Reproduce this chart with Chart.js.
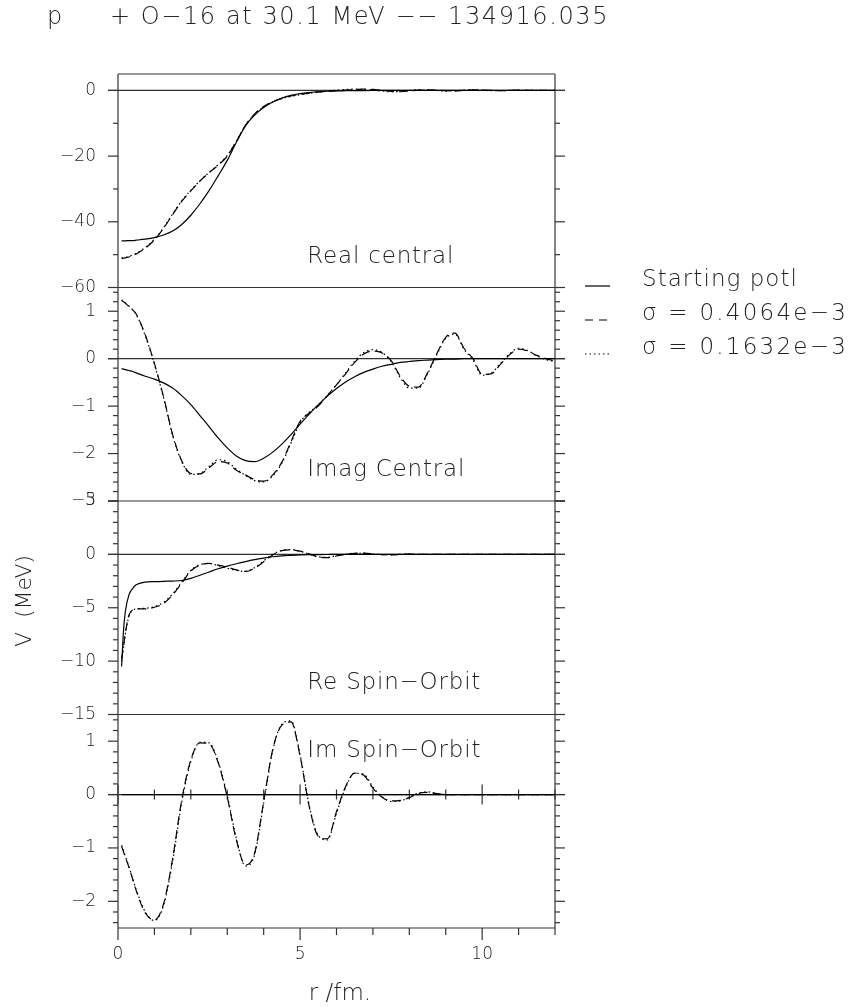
<!DOCTYPE html>
<html>
<head>
<meta charset="utf-8">
<script src="https://cdn.jsdelivr.net/npm/chart.js@4.4.1/dist/chart.umd.min.js"></script>
<style>
  html, body { margin: 0; padding: 0; background: #fff; }
</style>
</head>
<body>
<canvas id="pot-chart" width="851" height="1007"></canvas>
<script>
// radius grid, fm
const r = [0.1, 0.15, 0.2, 0.3, 0.4, 0.5, 0.75, 1, 1.25, 1.5, 1.75, 2, 2.25, 2.5, 2.75, 3, 3.25, 3.5, 3.75, 4,
  4.25, 4.5, 4.75, 5, 5.25, 5.5, 5.75, 6, 6.25, 6.5, 6.75, 7, 7.25, 7.5, 7.75, 8, 8.25, 8.5, 8.75, 9,
  9.25, 9.5, 9.75, 10, 10.25, 10.5, 10.75, 11, 11.25, 11.5, 11.75, 12];

// Real central (MeV)
const realStart = [-45.8, -45.8, -45.8, -45.7, -45.7, -45.6, -45.3, -44.8, -44.0, -42.8, -40.8, -38.0, -34.5, -30.5, -26.0, -21.3, -15.8, -10.8, -7.5, -5.2,
  -3.5, -2.3, -1.5, -1.0, -0.65, -0.4, -0.25, -0.15, -0.1, -0.06, -0.04, -0.02, 0, 0, 0, 0, 0, 0, 0, 0,
  0, 0, 0, 0, 0, 0, 0, 0, 0, 0, 0, 0];
const realFitA = [-51.2, -51.1, -51.0, -50.7, -50.3, -49.8, -48.0, -45.5, -42.0, -37.8, -33.8, -30.6, -27.6, -25.0, -22.8, -20.0, -15.5, -10.6, -7.2, -4.9,
  -3.4, -2.4, -1.7, -1.2, -0.8, -0.5, -0.3, -0.1, 0.1, 0.25, 0.4, 0.3, 0, -0.3, -0.4, -0.2, 0.1, 0.2, 0.1, -0.1,
  -0.2, 0, 0.2, 0.1, 0, -0.1, 0, 0.1, 0.05, 0, 0, 0];
const realFitB = [-51.0, -50.9, -50.8, -50.5, -50.1, -49.6, -47.8, -45.3, -41.8, -37.6, -33.6, -30.4, -27.5, -25.0, -22.6, -19.8, -15.4, -10.6, -7.3, -5.0,
  -3.5, -2.5, -1.8, -1.3, -0.9, -0.5, -0.2, 0.1, 0.3, 0.4, 0.3, 0.1, -0.2, -0.4, -0.3, 0, 0.2, 0.2, 0, -0.2,
  -0.1, 0.1, 0.2, 0.1, -0.1, -0.1, 0, 0.1, 0, 0, 0, 0];

// Imag central (MeV)
const imagStart = [-0.21, -0.22, -0.23, -0.25, -0.27, -0.3, -0.37, -0.43, -0.51, -0.62, -0.78, -0.97, -1.2, -1.43, -1.67, -1.88, -2.05, -2.15, -2.17, -2.1,
  -1.97, -1.8, -1.6, -1.38, -1.17, -0.97, -0.79, -0.63, -0.49, -0.38, -0.29, -0.22, -0.16, -0.12, -0.08, -0.06, -0.04, -0.03, -0.02, -0.01,
  -0.01, 0, 0, 0, 0, 0, 0, 0, 0, 0, 0, 0];
const imagFitA = [1.22, 1.2, 1.17, 1.1, 1.03, 0.94, 0.5, -0.1, -0.8, -1.6, -2.15, -2.42, -2.43, -2.3, -2.17, -2.2, -2.35, -2.45, -2.55, -2.58,
  -2.45, -2.18, -1.75, -1.32, -1.15, -1.0, -0.78, -0.55, -0.32, -0.08, 0.1, 0.16, 0.12, -0.04, -0.37, -0.58, -0.6, -0.3, 0.1, 0.45,
  0.54, 0.22, 0.0, -0.33, -0.32, -0.12, 0.08, 0.2, 0.16, 0.07, 0.0, -0.05];
const imagFitB = [1.24, 1.21, 1.18, 1.11, 1.03, 0.93, 0.48, -0.12, -0.82, -1.62, -2.17, -2.44, -2.42, -2.27, -2.13, -2.17, -2.33, -2.46, -2.57, -2.6,
  -2.47, -2.2, -1.78, -1.35, -1.13, -0.98, -0.77, -0.55, -0.3, -0.05, 0.13, 0.19, 0.13, -0.06, -0.4, -0.62, -0.62, -0.32, 0.08, 0.43,
  0.52, 0.2, -0.03, -0.35, -0.3, -0.1, 0.1, 0.22, 0.17, 0.06, -0.02, -0.06];

// Re spin-orbit (MeV)
const reSoStart = [-10.5, -7.2, -5.4, -3.8, -3.2, -2.85, -2.6, -2.55, -2.52, -2.5, -2.45, -2.25, -1.95, -1.65, -1.35, -1.1, -0.88, -0.68, -0.5, -0.35,
  -0.22, -0.14, -0.09, -0.05, -0.03, -0.02, -0.01, 0, 0, 0, 0, 0, 0, 0, 0, 0, 0, 0, 0, 0,
  0, 0, 0, 0, 0, 0, 0, 0, 0, 0, 0, 0];
const reSoFitA = [-9.8, -8.6, -7.4, -5.7, -5.2, -5.1, -5.1, -4.95, -4.6, -3.8, -2.7, -1.55, -1.0, -0.85, -1.0, -1.2, -1.45, -1.6, -1.3, -0.7,
  -0.05, 0.35, 0.42, 0.3, 0.05, -0.25, -0.3, -0.15, 0, 0.1, 0.12, 0.05, -0.03, -0.05, 0, 0.03, 0, 0, 0, 0,
  0, 0, 0, 0, 0, 0, 0, 0, 0, 0, 0, 0];
const reSoFitB = [-10.0, -8.8, -7.5, -5.8, -5.25, -5.1, -5.05, -4.9, -4.5, -3.7, -2.6, -1.5, -0.95, -0.85, -1.05, -1.3, -1.5, -1.6, -1.25, -0.6,
  0.0, 0.38, 0.45, 0.3, 0.02, -0.22, -0.28, -0.12, 0.02, 0.1, 0.1, 0.04, -0.02, -0.04, 0, 0.02, 0, 0, 0, 0,
  0, 0, 0, 0, 0, 0, 0, 0, 0, 0, 0, 0];

// Im spin-orbit (MeV)
const imSoStart = [0, 0, 0, 0, 0, 0, 0, 0, 0, 0, 0, 0, 0, 0, 0, 0, 0, 0, 0, 0,
  0, 0, 0, 0, 0, 0, 0, 0, 0, 0, 0, 0, 0, 0, 0, 0, 0, 0, 0, 0,
  0, 0, 0, 0, 0, 0, 0, 0, 0, 0, 0, 0];
const imSoFitA = [-0.97, -1.07, -1.17, -1.36, -1.58, -1.8, -2.22, -2.35, -2.05, -1.2, -0.1, 0.65, 0.97, 0.95, 0.6, -0.05, -0.85, -1.32, -1.1, -0.13,
  0.85, 1.3, 1.36, 0.72, -0.22, -0.78, -0.83, -0.32, 0.15, 0.4, 0.36, 0.12, -0.05, -0.12, -0.11, -0.06, 0.02, 0.04, 0.02, 0,
  0, 0, 0, 0, 0, 0, 0, 0, 0, 0, 0, 0];
const imSoFitB = [-0.95, -1.05, -1.15, -1.35, -1.57, -1.78, -2.2, -2.36, -2.08, -1.25, -0.15, 0.62, 0.98, 0.97, 0.62, -0.02, -0.82, -1.34, -1.13, -0.16,
  0.83, 1.32, 1.38, 0.75, -0.2, -0.77, -0.85, -0.35, 0.13, 0.4, 0.38, 0.14, -0.04, -0.13, -0.12, -0.05, 0.03, 0.05, 0.02, 0,
  0, 0, 0, 0, 0, 0, 0, 0, 0, 0, 0, 0];

// tick labels
const rTicks = [0, 5, 10];
const realTicks = [-60, -40, -20, 0];
const imagTicks = [-3, -2, -1, 0, 1];
const reSoTicks = [-15, -10, -5, 0, 5];
const imSoTicks = [-2, -1, 0, 1];

const seriesLabels = ['Starting potl', 'σ = 0.4064e−3', 'σ = 0.1632e−3'];
const titleText = 'p     + O−16 at 30.1 MeV −− 134916.035';

const panels = [
  { id: 'y1', min: -60, max: 5, major: 20, minor: 10, ticks: realTicks, data: [realStart, realFitA, realFitB], name: 'Real central', nameAt: -52.4 },
  { id: 'y2', min: -3, max: 1.5, major: 1, minor: 0.2, ticks: imagTicks, data: [imagStart, imagFitA, imagFitB], name: 'Imag Central', nameAt: -2.47 },
  { id: 'y3', min: -15, max: 5, major: 5, minor: 1, ticks: reSoTicks, data: [reSoStart, reSoFitA, reSoFitB], name: 'Re Spin−Orbit', nameAt: -12.65 },
  { id: 'y4', min: -2.5, max: 1.5, major: 1, minor: 0.2, ticks: imSoTicks, data: [imSoStart, imSoFitA, imSoFitB], name: 'Im Spin−Orbit', nameAt: 0.71 },
];

const dashes = [[], [9, 5], [1.5, 3]];
const ink = '#222';
const face = '"DejaVu Sans"';
const tickFont = { family: 'DejaVu Sans', size: 17, weight: '200' };
const fmt = v => (v < 0 ? '\u2212' + Math.abs(v) : String(v));

const datasets = [];
panels.forEach(p => {
  p.data.forEach((ys, k) => {
    datasets.push({
      label: seriesLabels[k],
      data: r.map((x, i) => ({ x: x, y: ys[i] })),
      yAxisID: p.id,
      borderColor: '#000',
      borderWidth: 1.2,
      borderDash: dashes[k],
      pointRadius: 0,
      cubicInterpolationMode: 'monotone',
      fill: false
    });
  });
});

const scales = {
  x: {
    type: 'linear', min: 0, max: 12,
    afterBuildTicks: s => { s.ticks = rTicks.map(v => ({ value: v })); },
    afterFit: s => { s.height = 79; },
    grid: { display: false, drawTicks: false, tickLength: 0 },
    border: { display: false },
    ticks: { font: tickFont, color: ink, padding: 16, maxRotation: 0, autoSkip: false }
  }
};
panels.forEach((p, i) => {
  scales[p.id] = {
    type: 'linear', position: 'left', stack: 'v', stackWeight: 1, weight: 4 - i,
    min: p.min, max: p.max,
    afterBuildTicks: s => { s.ticks = p.ticks.map(v => ({ value: v })); },
    afterFit: s => { s.width = 118; },
    grid: { display: false, drawTicks: false, tickLength: 0 },
    border: { display: false },
    ticks: { font: tickFont, color: ink, padding: 22, autoSkip: false, callback: v => fmt(v) }
  };
});

// spread a string so that it covers a given width
function fitText(ctx, text, x, y, width) {
  ctx.letterSpacing = '0px';
  const w0 = ctx.measureText(text).width;
  ctx.letterSpacing = Math.max(0, (width - w0) / [...text].length) + 'px';
  ctx.fillText(text, x, y);
  ctx.letterSpacing = '0px';
}

// frame, panel separators, minor/major ticks, texts
const framePlugin = {
  id: 'frame',
  beforeDatasetsDraw(chart) {
    const { ctx, chartArea: a, scales: sc } = chart;
    const seg = (x1, y1, x2, y2) => { ctx.beginPath(); ctx.moveTo(x1, y1); ctx.lineTo(x2, y2); ctx.stroke(); };
    ctx.save();
    ctx.strokeStyle = '#333';
    ctx.lineWidth = 1.2;
    seg(a.left, a.top, a.right, a.top);
    seg(a.left, a.top, a.left, a.bottom);
    seg(a.right, a.top, a.right, a.bottom);
    seg(a.left, a.bottom, a.right, a.bottom);
    panels.forEach((p, i) => {
      const s = sc[p.id];
      const k0 = Math.ceil(p.min / p.minor - 1e-6), k1 = Math.floor(p.max / p.minor + 1e-6);
      for (let k = k0; k <= k1; k++) {
        const v = k * p.minor;
        const y = s.getPixelForValue(v);
        const len = Math.abs(v / p.major - Math.round(v / p.major)) < 1e-6 ? 10 : 5;
        seg(a.left - len, y, a.left, y);
        seg(a.right, y, a.right + len, y);
      }
      const y0 = s.getPixelForValue(0);
      seg(a.left - 10, y0, a.right + 10, y0);
      if (i < panels.length - 1) {
        const yb = s.getPixelForValue(p.min);
        seg(a.left - 10, yb, a.right + 10, yb);
      }
    });
    const xs = sc.x, yz = sc.y4.getPixelForValue(0);
    for (let k = 0; k <= 12; k++) {
      const x = xs.getPixelForValue(k);
      const major = k % 5 === 0;
      seg(x, a.bottom, x, a.bottom + (major ? 12 : 7));
      seg(x, yz - (major ? 10 : 5), x, yz + (major ? 10 : 5));
    }
    ctx.restore();
  },
  afterDraw(chart) {
    const { ctx, scales: sc } = chart;
    ctx.save();
    ctx.fillStyle = ink;
    ctx.strokeStyle = '#000';
    ctx.lineWidth = 1.2;
    ctx.textBaseline = 'alphabetic';
    ctx.font = '200 24px ' + face;
    fitText(ctx, titleText, 47, 24, 562);
    ctx.font = '200 23px ' + face;
    ctx.letterSpacing = '0.8px';
    panels.forEach(p => {
      ctx.fillText(p.name, sc.x.getPixelForValue(5.2), sc[p.id].getPixelForValue(p.nameAt));
    });
    // legend
    const legW = [156, 206, 206];
    seriesLabels.forEach((t, k) => {
      const y = 286 + k * 34;
      ctx.setLineDash(k === 0 ? [] : k === 1 ? [8, 6] : [1.5, 3]);
      ctx.beginPath(); ctx.moveTo(585, y); ctx.lineTo(610, y); ctx.stroke();
      fitText(ctx, t, 642, y, legW[k]);
    });
    ctx.setLineDash([]);
    // axis titles
    ctx.textAlign = 'center';
    ctx.letterSpacing = '0px';
    ctx.fillText('r /fm.', 340, 1000);
    ctx.font = '200 22px ' + face;
    ctx.textBaseline = 'middle';
    ctx.translate(25, 601);
    ctx.rotate(-Math.PI / 2);
    ctx.fillText('V  (MeV)', 0, 0);
    ctx.restore();
  }
};

new Chart(document.getElementById('pot-chart'), {
  type: 'line',
  data: { datasets: datasets },
  options: {
    responsive: false,
    animation: false,
    devicePixelRatio: 1,
    layout: { padding: { top: 74, right: 296, left: 0, bottom: 0 } },
    plugins: { legend: { display: false }, tooltip: { enabled: false } },
    scales: scales
  },
  plugins: [framePlugin]
});
</script>
</body>
</html>
